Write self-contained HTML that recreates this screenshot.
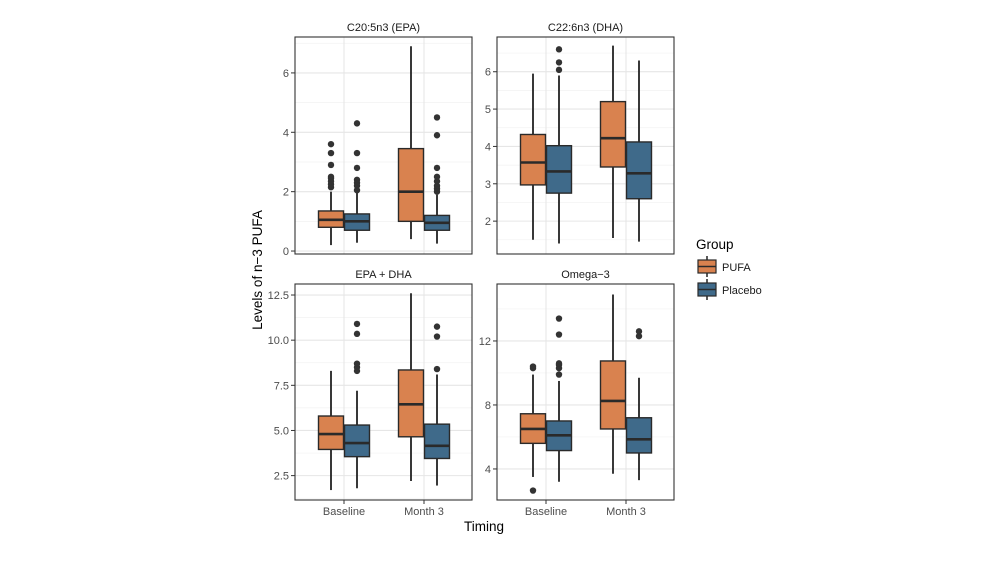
<!DOCTYPE html>
<html><head><meta charset="utf-8"><style>
body{margin:0;background:#fff;}
svg{display:block;font-family:"Liberation Sans",sans-serif;}
</style></head><body>
<svg id="chart" width="1000" height="563"></svg>
<script>
const groups = ["PUFA","Placebo"];
const timings = ["Baseline","Month 3"];
const panelTitles = ["C20:5n3 (EPA)","C22:6n3 (DHA)","EPA + DHA","Omega\u22123"];
const ticksEPA = [0,2,4,6];
const ticksDHA = [2,3,4,5,6];
const ticksSum = [2.5,5.0,7.5,10.0,12.5];
const ticksOmega = [4,8,12];
// [low whisker, q1, median, q3, high whisker] per timing x group
const statsEPA = [[[0.2,0.8,1.05,1.35,2.0],[0.28,0.7,1.0,1.25,2.0]],[[0.4,1.0,2.0,3.45,6.9],[0.25,0.7,0.95,1.2,1.9]]];
const outEPA = [[[2.15,2.25,2.35,2.45,2.5,2.9,3.3,3.6],[2.05,2.2,2.3,2.4,2.8,3.3,4.3]],[[],[2.0,2.1,2.2,2.35,2.5,2.8,3.9,4.5]]];
const statsDHA = [[[1.5,2.97,3.57,4.32,5.95],[1.4,2.75,3.33,4.02,5.9]],[[1.55,3.45,4.22,5.2,6.7],[1.45,2.6,3.28,4.12,6.3]]];
const outDHA = [[[],[6.05,6.25,6.6]],[[],[]]];
const statsSum = [[[1.7,3.95,4.8,5.8,8.3],[1.8,3.55,4.3,5.3,7.2]],[[2.2,4.65,6.45,8.35,12.6],[1.95,3.45,4.15,5.35,8.1]]];
const outSum = [[[],[8.3,8.5,8.7,10.35,10.9]],[[],[8.4,10.2,10.75]]];
const statsOmega = [[[3.5,5.6,6.5,7.45,9.9],[3.2,5.15,6.1,7.0,9.5]],[[3.7,6.5,8.25,10.75,14.9],[3.3,5.0,5.85,7.2,9.7]]];
const outOmega = [[[2.65,10.3,10.4],[9.9,10.3,10.5,10.6,12.4,13.4]],[[],[12.3,12.6]]];

const NS="http://www.w3.org/2000/svg";
const svg=document.getElementById('chart');
function mk(tag,attrs,parent,text){const e=document.createElementNS(NS,tag);for(const k in attrs)e.setAttribute(k,attrs[k]);if(text!==undefined)e.textContent=text;(parent||svg).appendChild(e);return e;}
const fills=["#D9824F","#3F6A8A"];
const panels=[
 {x:295,y:37,w:177,h:217,dom:[-0.1,7.21],ticks:ticksEPA,stats:statsEPA,out:outEPA,fmt:v=>String(v),xl:false},
 {x:497,y:37,w:177,h:217,dom:[1.12,6.93],ticks:ticksDHA,stats:statsDHA,out:outDHA,fmt:v=>String(v),xl:false},
 {x:295,y:284,w:177,h:216,dom:[1.15,13.11],ticks:ticksSum,stats:statsSum,out:outSum,fmt:v=>v.toFixed(1),xl:true},
 {x:497,y:284,w:177,h:216,dom:[2.06,15.56],ticks:ticksOmega,stats:statsOmega,out:outOmega,fmt:v=>String(v),xl:true}
];
panels.forEach((p,pi)=>{
 const g=mk('g',{},svg);
 
 
 const ys=v=>p.y+p.h-(v-p.dom[0])/(p.dom[1]-p.dom[0])*p.h;
 const xs=i=>p.x+49+i*80;
 mk('rect',{x:p.x,y:p.y,width:p.w,height:p.h,fill:'#fff'},g);
 // minor grid
 for(let i=0;i<p.ticks.length+1;i++){
  const step=p.ticks[1]-p.ticks[0];const v=p.ticks[0]-step/2+i*step;
  if(v>p.dom[0]&&v<p.dom[1])mk('line',{x1:p.x,x2:p.x+p.w,y1:ys(v),y2:ys(v),stroke:'#f2f2f2','stroke-width':0.7},g);
 }
 p.ticks.forEach(t=>{
  const y=ys(t);
  mk('line',{x1:p.x,x2:p.x+p.w,y1:y,y2:y,stroke:'#e6e6e6','stroke-width':1.1},g);
  mk('line',{x1:p.x-4,x2:p.x,y1:y,y2:y,stroke:'#333','stroke-width':1},g);
  const tl=mk('text',{x:p.x-6,y:y+4,'text-anchor':'end','font-size':11,fill:'#4d4d4d'},g,p.fmt(t));
  
  
 });
 timings.forEach((tm,ti)=>{
  mk('line',{x1:xs(ti),x2:xs(ti),y1:p.y,y2:p.y+p.h,stroke:'#e6e6e6','stroke-width':1.1},g);
  if(p.xl){
   mk('line',{x1:xs(ti),x2:xs(ti),y1:p.y+p.h,y2:p.y+p.h+4,stroke:'#333'},g);
   const xl=mk('text',{x:xs(ti),y:p.y+p.h+15,'text-anchor':'middle','font-size':11,fill:'#4d4d4d'},g,tm);
   
   
  }
 });
 timings.forEach((tm,ti)=>{
  groups.forEach((gr,gi)=>{
   const s=p.stats[ti][gi];const cx=xs(ti)+(gi===0?-13:13);const hw=12.5;
   const b=mk('g',{},g);
   
   
   mk('line',{x1:cx,x2:cx,y1:ys(s[0]),y2:ys(s[4]),stroke:'#222','stroke-width':1.8},b);
   mk('rect',{x:cx-hw,y:ys(s[3]),width:hw*2,height:ys(s[1])-ys(s[3]),fill:fills[gi],stroke:'#2a2a2a','stroke-width':1.4},b);
   mk('line',{x1:cx-hw,x2:cx+hw,y1:ys(s[2]),y2:ys(s[2]),stroke:'#2a2a2a','stroke-width':2.6},b);
   p.out[ti][gi].forEach(v=>{const c=mk('circle',{cx:cx,cy:ys(v),r:3.2,fill:'#333'},b);
    
    });
  });
 });
 mk('rect',{x:p.x,y:p.y,width:p.w,height:p.h,fill:'none',stroke:'#333','stroke-width':1.1},g);
 const tt=mk('text',{x:p.x+p.w/2,y:p.y-6,'text-anchor':'middle','font-size':11,fill:'#1a1a1a'},g,panelTitles[pi]);
 
 
});
const yt=mk('text',{x:0,y:0,transform:'translate(262,270) rotate(-90)','text-anchor':'middle','font-size':13.5,fill:'#000'},svg,'Levels of n\u22123 PUFA');


const xt=mk('text',{x:484,y:531,'text-anchor':'middle','font-size':13.5,fill:'#000'},svg,'Timing');


const lg=mk('g',{},svg);


mk('text',{x:696,y:249,'font-size':13.5,fill:'#000'},lg,'Group');
groups.forEach((gr,gi)=>{
 const y=258+gi*23;
 const e=mk('g',{},lg);
 
 
 mk('line',{x1:707,x2:707,y1:y-2,y2:y+19,stroke:'#222','stroke-width':1.5},e);
 mk('rect',{x:698,y:y+2,width:18,height:13,fill:fills[gi],stroke:'#2a2a2a','stroke-width':1.2},e);
 mk('line',{x1:698,x2:716,y1:y+8.5,y2:y+8.5,stroke:'#2a2a2a','stroke-width':1.5},e);
 mk('text',{x:722,y:y+13,'font-size':11,fill:'#1a1a1a'},e,gr);
});
</script>
</body></html>
